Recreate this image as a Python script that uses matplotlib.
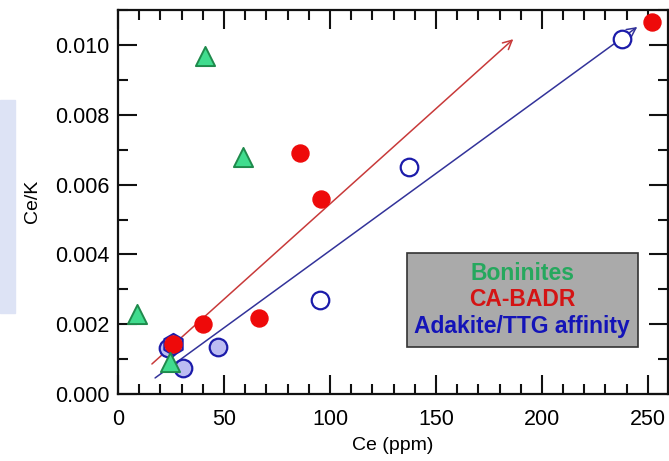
import numpy as np
import matplotlib.pyplot as plt
import matplotlib.patches as mpatches
from matplotlib.ticker import MultipleLocator

plt.rcParams['font.family'] = ['Liberation Sans', 'DejaVu Sans']

# Boninites
bon_ce = [41, 59, 9, 24.5]
bon_ratio = [0.0097, 0.0068, 0.0023, 0.00092]

# CA-BADR
ca_ce = [86, 96, 40, 66.5, 26, 252]
ca_ratio = [0.0069, 0.0056, 0.0020, 0.00218, 0.00143, 0.01066]

# Adakite/TTG affinity, open and filled symbols
ad_open_ce = [95.3, 137.5, 237.7]
ad_open_ratio = [0.0027, 0.0065, 0.01017]
ad_fill_ce = [30.7, 47.2, 23.7]
ad_fill_ratio = [0.00074, 0.00135, 0.00131]
ad_hex_ce = [26]
ad_hex_ratio = [0.00143]

# trend arrows (start, end)
red_trend = [(16, 0.00086), (186.5, 0.01017)]
blue_trend = [(17.5, 0.00046), (245, 0.01052)]

fig = plt.figure(figsize=(6.69, 4.61), dpi=100)
fig.patches.append(mpatches.Rectangle((0, 1 - 313 / 461), 15 / 669, 213 / 461,
                                      transform=fig.transFigure, color='#dde3f5', zorder=0))
ax = fig.add_axes([118 / 669, 67 / 461, 550 / 669, 384.5 / 461])

for (x0, y0), (x1, y1), c in [(red_trend[0], red_trend[1], '#c83a3a'),
                               (blue_trend[0], blue_trend[1], '#33339a')]:
    ax.annotate('', xy=(x1, y1), xytext=(x0, y0),
                arrowprops=dict(arrowstyle='->', color=c, lw=1.1,
                                mutation_scale=16, shrinkA=0, shrinkB=0))

ax.scatter(ad_fill_ce, ad_fill_ratio, s=160, marker='o', facecolor='#bcbcf2',
           edgecolor='#1c1caa', linewidths=1.6, zorder=3)
ax.scatter(ad_hex_ce, ad_hex_ratio, s=230, marker='h', facecolor='#bcbcf2',
           edgecolor='#1c1caa', linewidths=1.6, zorder=3)
ax.scatter(ad_open_ce, ad_open_ratio, s=160, marker='o', facecolor='white',
           edgecolor='#1c1caa', linewidths=1.6, zorder=3)
ax.scatter(ca_ce, ca_ratio, s=150, marker='o', color='#ee0a0a', zorder=4,
           clip_on=False)
ax.scatter(bon_ce, bon_ratio, s=190, marker='^', facecolor='#40dc8e',
           edgecolor='#1f8a4c', linewidths=1.4, zorder=5)

ax.set_xlim(0, 259.5)
ax.set_ylim(0, 0.01102)
ax.xaxis.set_major_locator(MultipleLocator(50))
ax.xaxis.set_minor_locator(MultipleLocator(10))
ax.yaxis.set_major_locator(MultipleLocator(0.002))
ax.yaxis.set_minor_locator(MultipleLocator(0.001))
ax.yaxis.set_major_formatter(plt.FormatStrFormatter('%.3f'))
ax.tick_params(which='both', direction='in', top=True, right=True, width=1.5,
               labelsize=15.5, color='#111111')
ax.tick_params(axis='x', pad=11)
ax.tick_params(axis='y', pad=6)
ax.tick_params(which='major', length=13.5)
ax.tick_params(which='minor', length=7)
for sp in ax.spines.values():
    sp.set_linewidth(1.6)
    sp.set_color('#111111')

ax.set_xlabel('Ce (ppm)', fontsize=14, labelpad=5)
ax.set_ylabel('Ce/K', fontsize=14, labelpad=10)

fig.patches.append(mpatches.Rectangle((407 / 669, 1 - 347 / 461), 231 / 669, 94 / 461,
                                      transform=fig.transFigure, facecolor='#aaaaaa',
                                      edgecolor='#333333', lw=1.2, zorder=6))
labels = ['Boninites', 'CA-BADR', 'Adakite/TTG affinity']
label_colors = ['#26a85e', '#d41414', '#1414b8']
for i, (txt, c) in enumerate(zip(labels, label_colors)):
    fig.text(522 / 669, 1 - (273 + 27 * i) / 461, txt, color=c, fontsize=16.5,
             fontweight='bold', ha='center', va='center', zorder=7)

fig.savefig('out.png', dpi=100)
